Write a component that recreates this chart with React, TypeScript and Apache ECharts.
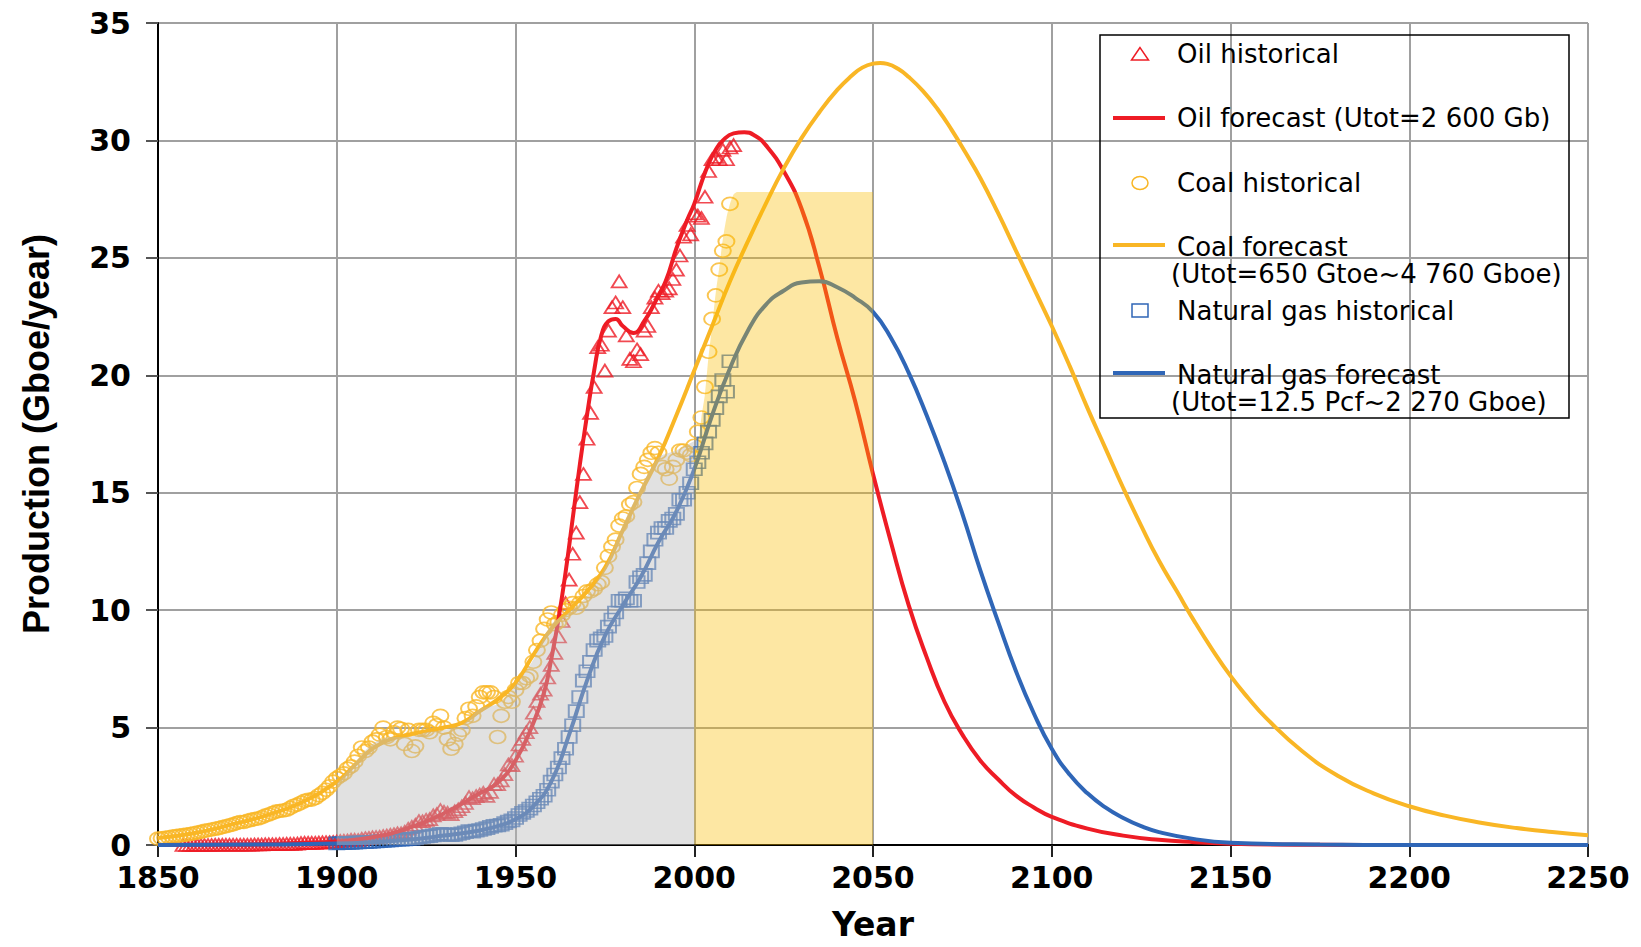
import React, { useEffect, useRef } from "react";
import * as echarts from "echarts";

// ---------- DATA ----------
const OIL_START = 1857;
const oilHistorical = [
  0, 0, 0, 0, 0, 0, 0, 0, 0, 0.01, 0.01, 0.01, 0.01,
  0.01, 0.01, 0.01, 0.01, 0.01, 0.01, 0.01, 0.02, 0.02, 0.02,
  0.03, 0.03, 0.03, 0.03, 0.04, 0.04, 0.05, 0.05, 0.05, 0.06,
  0.08, 0.09, 0.09, 0.09, 0.09, 0.1, 0.11, 0.12, 0.12, 0.13,
  0.15, 0.17, 0.18, 0.19, 0.22, 0.22, 0.21, 0.26, 0.29, 0.3,
  0.33, 0.34, 0.35, 0.38, 0.4, 0.43, 0.46, 0.5, 0.5, 0.56,
  0.69, 0.77, 0.86, 1.02, 1.01, 1.07, 1.1, 1.26, 1.32, 1.49,
  1.41, 1.37, 1.31, 1.44, 1.52, 1.65, 1.79, 2.04, 1.99, 2.08,
  2.15, 2.22, 2.09, 2.26, 2.59, 2.59, 2.75, 3.02, 3.43, 3.4,
  3.8, 4.28, 4.52, 4.8, 5.02, 5.63, 6.13, 6.44, 6.61, 7.13,
  7.67, 8.18, 8.88, 9.54, 10.3, 11.3, 12.4, 13.3, 14.6, 15.8,
  17.3, 18.4, 19.5, 21.2, 21.3, 20.2, 21.9, 22.9, 23.1, 24.0,
  22.9, 21.7, 20.7, 20.6, 21.1, 20.9, 21.9, 22.1, 22.9, 23.3,
  23.6, 23.5, 23.6, 23.7, 24.1, 24.5, 25.1, 25.9, 26.4, 26.0,
  26.9, 26.8, 26.7, 27.6, 28.7, 29.2, 29.3, 29.2, 29.6, 29.2, 29.7, 29.8,
];

const COAL_START = 1850;
const coalHistorical = [
  0.27, 0.29, 0.31, 0.33, 0.36, 0.38, 0.4, 0.42, 0.44, 0.47,
  0.5, 0.53, 0.56, 0.6, 0.63, 0.66, 0.69, 0.72, 0.76, 0.8,
  0.84, 0.88, 0.93, 0.98, 0.98, 1.03, 1.07, 1.1, 1.13, 1.18,
  1.25, 1.3, 1.36, 1.42, 1.45, 1.47, 1.5, 1.58, 1.67, 1.72,
  1.8, 1.88, 1.92, 1.93, 2.0, 2.12, 2.22, 2.35, 2.5, 2.7,
  2.85, 2.95, 3.05, 3.25, 3.35, 3.55, 3.8, 4.15, 4.0, 4.15,
  4.4, 4.5, 4.7, 5.0, 4.6, 4.5, 4.8, 5.0, 4.95, 4.3,
  4.9, 4.0, 4.2, 4.9, 4.9, 4.9, 4.8, 5.2, 5.1, 5.5,
  5.0, 4.5, 4.1, 4.3, 4.7, 4.9, 5.4, 5.8, 5.5, 5.9,
  6.3, 6.5, 6.5, 6.5, 6.3, 4.6, 5.5, 6.1, 6.3, 6.1,
  6.6, 6.9, 6.9, 7.1, 7.2, 7.8, 8.3, 8.7, 9.2, 9.6,
  9.9, 9.4, 9.5, 9.8, 10.0, 10.1, 10.3, 10.1, 10.3, 10.6,
  10.8, 10.8, 10.9, 11.1, 11.2, 11.8, 12.3, 12.7, 13.0, 13.6,
  13.9, 14.0, 14.5, 14.6, 15.2, 15.8, 16.1, 16.4, 16.7, 16.9,
  16.7, 16.1, 16.0, 15.6, 16.1, 16.4, 16.8, 16.8, 16.7, 16.6,
  17.0, 17.6, 18.2, 19.5, 21.0, 22.4, 23.4, 24.5, 25.3, 25.7, 27.3,
];

const GAS_START = 1900;
const gasHistorical = [
  0.07, 0.08, 0.08, 0.09, 0.09, 0.1, 0.11, 0.12, 0.12, 0.13,
  0.14, 0.15, 0.16, 0.17, 0.18, 0.19, 0.21, 0.23, 0.23, 0.24,
  0.26, 0.26, 0.28, 0.32, 0.34, 0.36, 0.38, 0.41, 0.43, 0.48,
  0.47, 0.44, 0.42, 0.43, 0.47, 0.5, 0.54, 0.59, 0.57, 0.61,
  0.64, 0.68, 0.72, 0.77, 0.82, 0.83, 0.86, 0.93, 1.0, 1.05,
  1.15, 1.28, 1.37, 1.45, 1.55, 1.68, 1.82, 1.97, 2.1, 2.35,
  2.7, 3.0, 3.3, 3.7, 4.1, 4.6, 5.1, 5.7, 6.3, 7.0,
  7.4, 7.8, 8.3, 8.7, 8.8, 8.9, 9.3, 9.6, 9.9, 10.4,
  10.4, 10.5, 10.4, 10.4, 11.2, 11.4, 11.5, 12.0, 12.5, 13.0,
  13.3, 13.5, 13.5, 13.8, 13.9, 14.1, 14.7, 14.7, 15.0, 15.4,
  16.0, 16.3, 16.7, 17.1, 17.6, 18.1, 18.6, 19.1, 19.8, 19.3, 20.6,
];

const oilForecastYears = [
  1850, 1870, 1890, 1900, 1910, 1920, 1930, 1940, 1945, 1950, 1955, 1958, 1960, 1962, 1964, 1966,
  1968, 1970, 1972, 1974, 1976, 1978, 1980, 1983, 1986, 1989, 1992, 1995, 1998, 2000, 2002, 2004,
  2006, 2008, 2011, 2014, 2017, 2020, 2025, 2030, 2035, 2040, 2045, 2050, 2055, 2060, 2065, 2070,
  2075, 2080, 2085, 2090, 2095, 2100, 2110, 2120, 2130, 2140, 2150, 2175, 2200, 2250,
];
const oilForecast = [
  0, 0.01, 0.08, 0.15, 0.33, 0.72, 1.35, 2.2, 2.65, 3.6, 5.2, 6.5, 7.9, 9.6, 11.6, 13.9,
  16.2, 18.3, 20.2, 21.7, 22.3, 22.4, 22.1, 21.8, 22.3, 23.1, 24.0, 25.4, 26.6, 27.3, 28.2, 29.0,
  29.6, 30.0, 30.3, 30.35, 30.2, 29.8, 28.7, 27.1, 24.6, 21.6, 18.9, 15.8, 12.9, 10.2, 8.0, 6.1,
  4.7, 3.6, 2.8, 2.1, 1.6, 1.2, 0.7, 0.4, 0.22, 0.12, 0.05, 0.01, 0, 0,
];

const coalForecastYears = [
  1850, 1860, 1870, 1880, 1890, 1900, 1905, 1910, 1915, 1920, 1925, 1930, 1935, 1940, 1945, 1950,
  1955, 1960, 1965, 1970, 1975, 1980, 1985, 1990, 1995, 2000, 2005, 2010, 2015, 2020, 2025, 2030,
  2035, 2040, 2044, 2047, 2050, 2052, 2054, 2057, 2060, 2064, 2068, 2072, 2076, 2080, 2085, 2090,
  2095, 2100, 2105, 2110, 2115, 2120, 2125, 2130, 2135, 2140, 2145, 2150, 2155, 2160, 2170, 2180,
  2190, 2200, 2210, 2220, 2230, 2240, 2250,
];
const coalForecast = [
  0.3, 0.5, 0.85, 1.25, 1.8, 2.7, 3.4, 4.1, 4.5, 4.7, 4.85, 5.0, 5.2, 5.7, 6.2, 6.9,
  8.1, 9.2, 10.0, 10.8, 11.8, 13.4, 15.0, 16.5, 18.3, 20.2, 22.1, 24.0, 25.7, 27.3, 28.8, 30.1,
  31.2, 32.15, 32.75, 33.1, 33.27, 33.3, 33.26, 33.05, 32.7, 32.1, 31.35, 30.45, 29.45, 28.4, 26.9, 25.3,
  23.7, 22.1, 20.4, 18.6, 16.9, 15.2, 13.6, 12.1, 10.8, 9.5, 8.3, 7.2, 6.25, 5.4, 4.0, 2.95,
  2.2, 1.65, 1.25, 0.95, 0.72, 0.55, 0.42,
];

const gasForecastYears = [
  1850, 1880, 1900, 1910, 1920, 1930, 1940, 1945, 1950, 1955, 1960, 1965, 1970, 1975, 1980,
  1985, 1990, 1995, 2000, 2005, 2010, 2015, 2020, 2025, 2030, 2035, 2040, 2045, 2050, 2055, 2060,
  2065, 2070, 2075, 2080, 2085, 2090, 2095, 2100, 2105, 2110, 2115, 2120, 2125, 2130, 2140, 2150,
  2175, 2200, 2250,
];
const gasForecast = [
  0, 0.02, 0.06, 0.12, 0.22, 0.4, 0.62, 0.8, 1.1, 1.65, 2.7, 4.7, 7.0, 8.9, 10.2,
  11.4, 12.9, 14.2, 16.0, 18.3, 20.3, 21.9, 23.0, 23.6, 23.95, 24.0, 23.75, 23.3, 22.7, 21.6, 20.1,
  18.3, 16.3, 14.1, 11.7, 9.5, 7.4, 5.6, 4.1, 3.0, 2.2, 1.6, 1.15, 0.8, 0.55, 0.25, 0.1,
  0.02, 0, 0,
];

// shaded periods
const grayYears = [1900, 1905, 1910, 1915, 1920, 1925, 1930, 1935, 1940, 1945, 1950, 1955, 1960, 1965, 1970, 1975, 1980, 1985, 1990, 1995, 2000];
const grayTop = [2.6, 3.5, 4.3, 4.6, 4.6, 4.8, 4.9, 5.1, 5.8, 6.0, 6.8, 7.9, 9.4, 9.9, 10.6, 11.8, 13.6, 15.2, 16.5, 16.8, 17.2];
const yellowYears = [2000, 2001, 2002, 2003, 2004, 2005, 2006, 2007, 2008, 2009, 2010, 2011, 2012, 2050];
const yellowTop = [16.6, 17.0, 18.2, 19.2, 20.8, 22.1, 23.5, 24.6, 25.8, 26.7, 27.3, 27.7, 27.8, 27.8];

const legendNames = [
  "Oil historical",
  "Oil forecast (Utot=2 600 Gb)",
  "Coal historical",
  "Coal forecast",
  "(Utot=650 Gtoe~4 760 Gboe)",
  "Natural gas historical",
  "Natural gas forecast",
  "(Utot=12.5 Pcf~2 270 Gboe)",
];

const X_MIN = 1850, X_MAX = 2250, X_STEP = 50;
const Y_MIN = 0, Y_MAX = 35, Y_STEP = 5;

// ---------- STYLE ----------
const OIL = "#ee1c25";
const COAL = "#f9b625";
const GAS = "#2f66b7";
const GRID = "#a0a0a0";
const ELLIPSE = "path://M0,10 A10,10 0 1,1 20,10 A10,10 0 1,1 0,10 Z";

const seq = (start: number, vals: number[]) => vals.map((v, i) => [start + i, v]);
const zip = (xs: number[], ys: number[]) => xs.map((x, i) => [x, ys[i]]);

export default function App() {
  const ref = useRef<HTMLDivElement>(null);
  useEffect(() => {
    if (!ref.current) return;
    const chart = echarts.init(ref.current, undefined, { renderer: "svg" });
    const tickFont = { fontFamily: "DejaVu Sans", fontWeight: "bold" as const, fontSize: 30, color: "#000" };
    const legFont = { fontFamily: "DejaVu Sans", fontSize: 26, fill: "#000" };
    const LX = 1177;
    const mark = { color: "rgba(0,0,0,0)", borderWidth: 1.8 };
    const option: any = {
      animation: false,
      backgroundColor: "#fff",
      grid: { left: 158, right: 53, top: 23, bottom: 102, containLabel: false, outerBoundsMode: "none" },
      xAxis: {
        type: "value", min: X_MIN, max: X_MAX, interval: X_STEP,
        name: "Year", nameLocation: "middle", nameGap: 63,
        nameTextStyle: { fontFamily: "DejaVu Sans", fontWeight: "bold", fontSize: 33, lineHeight: 33, color: "#000" },
        axisLine: { show: true, onZero: false, lineStyle: { color: "#000", width: 2 } },
        axisTick: { show: true, length: 12, lineStyle: { color: "#222", width: 2 } },
        axisLabel: { ...tickFont, margin: 17, formatter: (v: number) => String(v) },
        splitLine: { show: true, lineStyle: { color: GRID, width: 2 } },
      },
      yAxis: {
        type: "value", min: Y_MIN, max: Y_MAX, interval: Y_STEP,
        name: "Production (Gboe/year)", nameLocation: "middle", nameGap: 104, nameRotate: 90,
        nameTextStyle: { fontFamily: "Liberation Sans", fontWeight: "bold", fontSize: 36, color: "#000" },
        axisLine: { show: true, lineStyle: { color: "#000", width: 2 } },
        axisTick: { show: true, length: 12, lineStyle: { color: "#555", width: 2 } },
        axisLabel: { ...tickFont, margin: 27, formatter: (v: number) => String(v) },
        splitLine: { show: true, lineStyle: { color: GRID, width: 2 } },
      },
      series: [
        {
          name: legendNames[0], type: "scatter", z: 2, symbol: "triangle", symbolSize: [15, 12],
          itemStyle: { ...mark, borderColor: OIL },
          data: seq(OIL_START, oilHistorical),
        },
        {
          name: legendNames[2], type: "scatter", z: 2, symbol: ELLIPSE, symbolSize: [16, 13],
          itemStyle: { ...mark, borderColor: COAL },
          data: seq(COAL_START, coalHistorical),
        },
        {
          name: legendNames[5], type: "scatter", z: 2, symbol: "rect", symbolSize: [15, 12],
          itemStyle: { ...mark, borderColor: GAS },
          data: seq(GAS_START, gasHistorical),
        },
        {
          name: legendNames[1], type: "line", z: 3, smooth: 0.5, showSymbol: false, symbol: "none",
          lineStyle: { color: OIL, width: 4 }, data: zip(oilForecastYears, oilForecast),
        },
        {
          name: legendNames[3], type: "line", z: 3, smooth: 0.5, showSymbol: false, symbol: "none",
          lineStyle: { color: COAL, width: 4 }, data: zip(coalForecastYears, coalForecast),
        },
        {
          name: legendNames[6], type: "line", z: 3, smooth: 0.5, showSymbol: false, symbol: "none",
          lineStyle: { color: GAS, width: 4 }, data: zip(gasForecastYears, gasForecast),
        },
        {
          name: "historical period", type: "line", z: 4, smooth: 0.3, symbol: "none", silent: true,
          lineStyle: { width: 0 }, areaStyle: { color: "rgba(185,185,185,0.62)", origin: "start" },
          data: zip(grayYears, grayTop),
        },
        {
          name: "forecast period", type: "line", z: 4, smooth: 0.2, symbol: "none", silent: true,
          lineStyle: { width: 0 }, areaStyle: { color: "rgba(250,190,3,0.52)", origin: "start" },
          data: zip(yellowYears, yellowTop),
        },
      ],
      graphic: [
        { type: "rect", z: 100, shape: { x: 1100, y: 35, width: 469, height: 383 }, style: { fill: "none", stroke: "#000", lineWidth: 1.5 } },
        { type: "polygon", z: 100, shape: { points: [[1140, 47.5], [1131.5, 60], [1148.5, 60]] }, style: { fill: "none", stroke: OIL, lineWidth: 1.5 } },
        { type: "line", z: 100, shape: { x1: 1113, y1: 118, x2: 1165, y2: 118 }, style: { stroke: OIL, lineWidth: 4 } },
        { type: "ellipse", z: 100, shape: { cx: 1140, cy: 183, rx: 8, ry: 6.5 }, style: { fill: "none", stroke: COAL, lineWidth: 1.5 } },
        { type: "line", z: 100, shape: { x1: 1113, y1: 245, x2: 1165, y2: 245 }, style: { stroke: COAL, lineWidth: 4 } },
        { type: "rect", z: 100, shape: { x: 1132, y: 304, width: 16, height: 13 }, style: { fill: "none", stroke: GAS, lineWidth: 1.5 } },
        { type: "line", z: 100, shape: { x1: 1113, y1: 373, x2: 1165, y2: 373 }, style: { stroke: GAS, lineWidth: 4 } },
        { type: "text", z: 100, x: LX, y: 54, style: { ...legFont, text: legendNames[0], verticalAlign: "middle" } },
        { type: "text", z: 100, x: LX, y: 118, style: { ...legFont, text: legendNames[1], verticalAlign: "middle" } },
        { type: "text", z: 100, x: LX, y: 183, style: { ...legFont, text: legendNames[2], verticalAlign: "middle" } },
        { type: "text", z: 100, x: LX, y: 247, style: { ...legFont, text: legendNames[3], verticalAlign: "middle" } },
        { type: "text", z: 100, x: 1171, y: 274, style: { ...legFont, text: legendNames[4], verticalAlign: "middle" } },
        { type: "text", z: 100, x: LX, y: 311, style: { ...legFont, text: legendNames[5], verticalAlign: "middle" } },
        { type: "text", z: 100, x: LX, y: 375, style: { ...legFont, text: legendNames[6], verticalAlign: "middle" } },
        { type: "text", z: 100, x: 1171, y: 402, style: { ...legFont, text: legendNames[7], verticalAlign: "middle" } },
      ],
    };
    chart.setOption(option);
    return () => chart.dispose();
  }, []);
  return <div ref={ref} style={{ position: "absolute", left: 0, top: 0, width: 1641, height: 947 }} />;
}
